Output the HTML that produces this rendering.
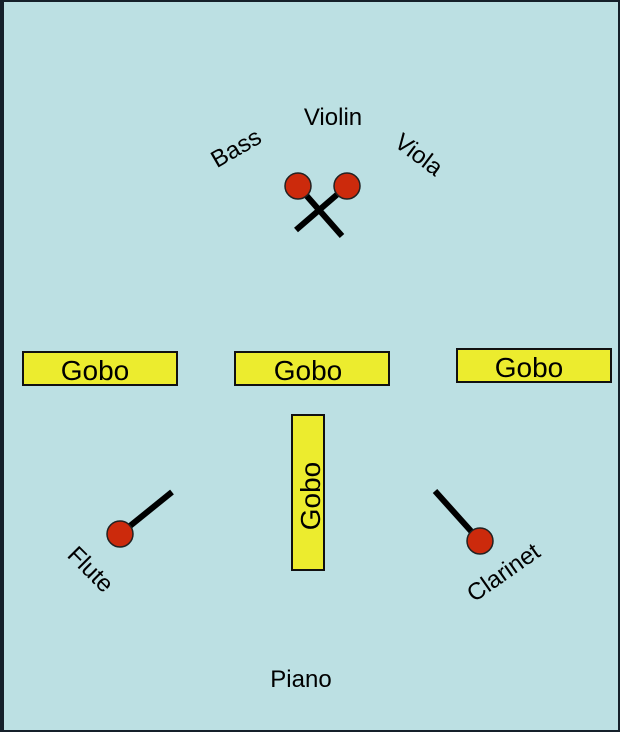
<!DOCTYPE html>
<html><head><meta charset="utf-8"><style>
html,body{margin:0;padding:0;width:620px;height:732px;overflow:hidden;background:#111}
svg{display:block}
text{font-family:"Liberation Sans",Arial,sans-serif;fill:#000}
</style></head><body>
<svg width="620" height="732" viewBox="0 0 620 732" xmlns="http://www.w3.org/2000/svg">
<rect x="0" y="0" width="620" height="732" fill="#15202a"/>
<rect x="4" y="2" width="614" height="728" fill="#bce0e3"/>
<g fill="#ecec2e" stroke="#111" stroke-width="2">
<rect x="23" y="352" width="154" height="33"/>
<rect x="235" y="352" width="154" height="33"/>
<rect x="457" y="349" width="154" height="33"/>
<rect x="292" y="415" width="32" height="155"/>
</g>
<g font-size="28" text-anchor="middle">
<text x="95" y="380">Gobo</text>
<text x="308" y="380">Gobo</text>
<text x="529" y="377">Gobo</text>
<text transform="translate(320,496) rotate(-90)">Gobo</text>
</g>
<g stroke="#000" stroke-width="6" stroke-linecap="butt">
<line x1="298" y1="186" x2="342" y2="236"/>
<line x1="347" y1="186" x2="296" y2="230"/>
<line x1="120" y1="534" x2="172" y2="492"/>
<line x1="479" y1="540" x2="435" y2="491"/>
</g>
<g fill="#cc2a0c" stroke="#222" stroke-width="1.5">
<circle cx="298" cy="186" r="13"/>
<circle cx="347" cy="186" r="13"/>
<circle cx="120" cy="534" r="13"/>
<circle cx="480" cy="541" r="13"/>
</g>
<g font-size="24" text-anchor="middle">
<text x="333" y="125">Violin</text>
<text transform="translate(240,155) rotate(-30)">Bass</text>
<text transform="translate(414,161) rotate(37)">Viola</text>
<text transform="translate(85,575) rotate(45)">Flute</text>
<text transform="translate(508,579) rotate(-35)">Clarinet</text>
<text x="301" y="687">Piano</text>
</g>
</svg>
</body></html>
